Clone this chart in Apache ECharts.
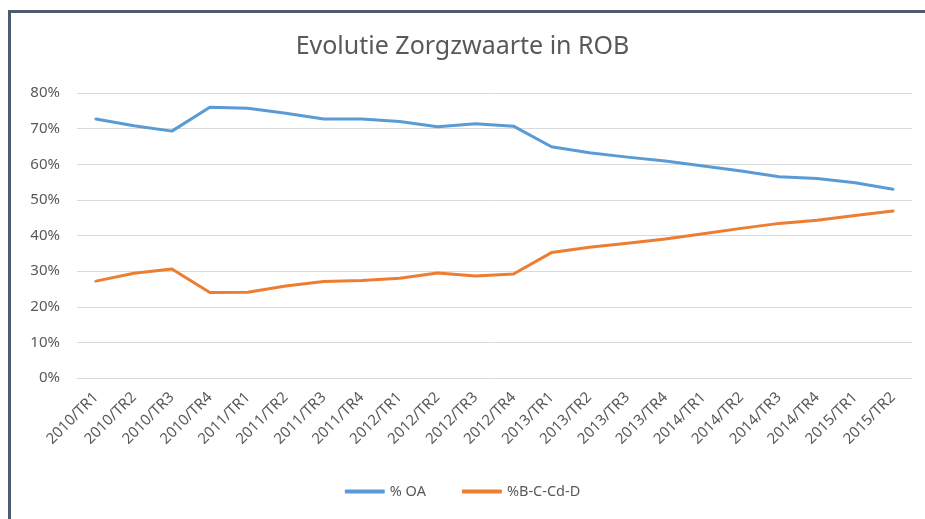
<!DOCTYPE html>
<html>
<head>
<meta charset="utf-8">
<script src="https://cdn.jsdelivr.net/npm/echarts@6/dist/echarts.min.js"></script>
<style>
  html, body { margin: 0; padding: 0; background: #fff; }
  #frame { position: absolute; left: 8px; top: 10px; right: 0; bottom: 0;
           border-top: 3px solid #4e5a70; border-left: 3px solid #4e5a70; }
  #chart { position: absolute; left: 0; top: 0; width: 925px; height: 519px; }
</style>
</head>
<body>
<div id="frame"></div>
<div id="chart"></div>
<script>
const categories = [
  '2010/TR1', '2010/TR2', '2010/TR3', '2010/TR4',
  '2011/TR1', '2011/TR2', '2011/TR3', '2011/TR4',
  '2012/TR1', '2012/TR2', '2012/TR3', '2012/TR4',
  '2013/TR1', '2013/TR2', '2013/TR3', '2013/TR4',
  '2014/TR1', '2014/TR2', '2014/TR3', '2014/TR4',
  '2015/TR1', '2015/TR2'
]
const oaValues = [72.7, 70.8, 69.3, 76.0, 75.7, 74.3, 72.7, 72.7, 72.0, 70.5, 71.4, 70.7,
  64.9, 63.2, 62.0, 60.9, 59.5, 58.1, 56.5, 56.0, 54.8, 53.0]
const bcdValues = [27.2, 29.4, 30.6, 24.0, 24.1, 25.8, 27.1, 27.4, 28.0, 29.5, 28.6, 29.2,
  35.2, 36.7, 37.8, 39.0, 40.5, 42.0, 43.4, 44.3, 45.6, 46.9]
const yTicks = [0, 10, 20, 30, 40, 50, 60, 70, 80]

const FONT = 'Noto Sans'
const TEXT = '#595959'

const chart = echarts.init(document.getElementById('chart'))
chart.setOption({
  animation: false,
  title: {
    text: 'Evolutie Zorgzwaarte in ROB',
    left: 'center',
    top: 29,
    textStyle: { fontFamily: FONT, fontSize: 25, fontWeight: 'normal', color: TEXT }
  },
  legend: {
    bottom: 15,
    left: 'center',
    icon: 'roundRect',
    itemWidth: 40,
    itemHeight: 4,
    itemGap: 36,
    textStyle: { fontFamily: FONT, fontSize: 14.5, color: TEXT }
  },
  grid: { left: 77, right: 13, top: 93, bottom: 141 },
  xAxis: {
    type: 'category',
    data: categories,
    boundaryGap: true,
    axisLine: { lineStyle: { color: '#d9d9d9' } },
    axisTick: { show: false },
    axisLabel: { interval: 0, rotate: 45, margin: 17, fontFamily: FONT, fontSize: 15, color: TEXT }
  },
  yAxis: {
    type: 'value',
    min: yTicks[0],
    max: yTicks[yTicks.length - 1],
    interval: 10,
    axisLine: { show: false },
    axisTick: { show: false },
    splitLine: { lineStyle: { color: '#d9d9d9', width: 1 } },
    axisLabel: { margin: 17, fontFamily: FONT, fontSize: 15, color: TEXT, formatter: '{value}%' }
  },
  series: [
    {
      name: '% OA',
      type: 'line',
      data: oaValues,
      showSymbol: false,
      symbol: 'none',
      lineStyle: { width: 3, color: '#5b9bd5', cap: 'round', join: 'round' },
      itemStyle: { color: '#5b9bd5' }
    },
    {
      name: '%B-C-Cd-D',
      type: 'line',
      data: bcdValues,
      showSymbol: false,
      symbol: 'none',
      lineStyle: { width: 3, color: '#ed7d31', cap: 'round', join: 'round' },
      itemStyle: { color: '#ed7d31' }
    }
  ]
})
</script>
</body>
</html>
